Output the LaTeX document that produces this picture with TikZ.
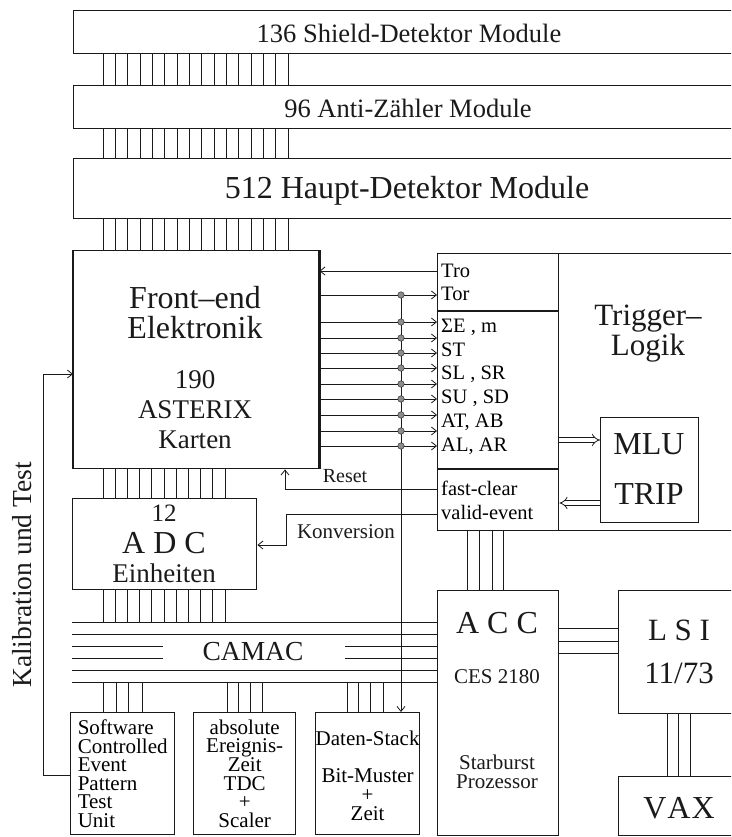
\documentclass[tikz,border=0pt]{standalone}
\usepackage{fontspec}
\setmainfont{Liberation Serif}
\usepackage{xcolor}
\definecolor{cInk}{HTML}{1A1A1A}
\definecolor{cDot}{HTML}{8C8C8C}
\usepackage{tikz}
\usetikzlibrary{arrows.meta}
\newcommand{\fsz}[2]{\fontsize{#1}{#2}\selectfont}
\tikzset{
  mod-box/.style={draw=cInk,line width=1.4pt,inner sep=0pt,anchor=north west},
  bus-line/.style={draw=cInk,line width=0.9pt},
  arrow/.style={draw=cInk,line width=0.8pt,-{Straight Barb[length=5pt,width=8pt]}},
  arrow-wide/.style={draw=cInk,line width=0.8pt,double,double distance=3.5pt,-{Implies}},
  sig-dot/.style={circle,draw=cInk,fill=cDot,inner sep=0pt,minimum size=6.5pt},
  sig-label/.style={anchor=west,inner sep=0pt,font=\fsz{20.5}{22}},
  box-text/.style={inner sep=0pt,text=cInk},
}

\begin{document}
\begin{tikzpicture}[x=1pt,y=-1pt]
  \clip (0,0) rectangle (731,837);
  % detector modules
  \node[mod-box,minimum width=680pt,minimum height=43pt] (shield) at (73,10) {};
  \node[mod-box,minimum width=680pt,minimum height=43pt] (anti) at (73,85) {};
  \node[mod-box,minimum width=680pt,minimum height=60pt] (haupt) at (73,158) {};
  \node[box-text,font=\fsz{26.5}{28}] (shield-t) at (409,33) {136 Shield-Detektor Module};
  \node[box-text,font=\fsz{26.5}{28}] (anti-t) at (408,108) {96 Anti-Zähler Module};
  \node[box-text,font=\fsz{32}{34}] (haupt-t) at (407,191) {512 Haupt-Detektor Module};

  % front-end and ADC
  \node[mod-box,minimum width=245pt,minimum height=218pt] (front) at (73,250) {};
  \draw[line width=2.4pt,cInk] (front.north west) -- (front.south west);
  \draw[line width=2.4pt,cInk] (front.north east) -- (front.south east);
  \node[box-text,font=\fsz{32}{30},align=center] (fe-title) at (195,313) {Front–end\\Elektronik};
  \node[box-text,font=\fsz{27}{30},align=center] (fe-count) at (195,410) {190\\ASTERIX\\Karten};
  \node[mod-box,minimum width=184pt,minimum height=91pt] (adc) at (72,498) {};
  \node[box-text,font=\fsz{25}{26}] (adc-n) at (164,513) {12};
  \node[box-text,font=\fsz{32}{34}] (adc-t) at (164,543) {A D C};
  \node[box-text,font=\fsz{27}{28}] (adc-e) at (164,573) {Einheiten};

  % trigger
  \node[mod-box,minimum width=320pt,minimum height=277pt] (trig) at (437,253) {};
  \node[mod-box,minimum width=121pt,minimum height=277pt] (sig) at (437,253) {};
  \draw[line width=1.4pt,cInk] (sig.west |- 0,311) -- (sig.east |- 0,311);
  \draw[line width=1.4pt,cInk] (sig.west |- 0,469) -- (sig.east |- 0,469);
  \node[box-text,font=\fsz{31}{30},align=center] (trig-t) at (648,334) {Trigger–\\Logik};
  \node[mod-box,minimum width=98pt,minimum height=105pt] (mlu) at (600,417) {};
  \node[box-text,font=\fsz{32}{34}] (mlu-t) at (649,444) {MLU};
  \node[box-text,font=\fsz{32}{34}] (trip-t) at (649,494) {TRIP};
  \foreach \txt/\y [count=\k] in {Tro/271,Tor/294,{ΣE , m}/327,ST/350,{SL , SR}/374,
      {SU , SD}/398,{AT, AB}/422,{AL, AR}/446,fast-clear/488,valid-event/512}
    \node[sig-label] (lab\k) at (441,\y) {\txt};

  % computers
  \node[mod-box,minimum width=121pt,minimum height=245pt] (acc) at (437,590) {};
  \node[box-text,font=\fsz{32}{34}] (acc-t) at (497,623) {A C C};
  \node[box-text,font=\fsz{21}{22}] (acc-c) at (497,677) {CES 2180};
  \node[box-text,font=\fsz{21}{19},align=center] (acc-p) at (497,772) {Starburst\\Prozessor};
  \node[mod-box,minimum width=140pt,minimum height=123pt] (lsi) at (618,590) {};
  \node[box-text,font=\fsz{31}{32}] (lsi-t) at (679,630) {L S I};
  \node[box-text,font=\fsz{31}{32}] (lsi-n) at (679,673) {11/73};
  \node[mod-box,minimum width=140pt,minimum height=59pt] (vax) at (618,776) {};
  \node[box-text,font=\fsz{32}{34}] (vax-t) at (679,808) {V\kern1pt A\kern1pt X};

  % CAMAC modules
  \node[mod-box,minimum width=104pt,minimum height=122pt,align=left,
    font=\fsz{21}{18.6}] (soft) at (70,712)
    {Software\\Controlled\\Event\\Pattern\\Test\\Unit};
  \node[mod-box,minimum width=102pt,minimum height=122pt,align=center,
    font=\fsz{21}{18.6}] (abs) at (193,712)
    {absolute\\Ereignis-\\Zeit\\TDC\\+\\Scaler};
  \node[mod-box,minimum width=101pt,minimum height=122pt,align=center,
    font=\fsz{21}{18.6}] (daten) at (315,712)
    {\mbox{}\\Daten-Stack\\\mbox{}\\Bit-Muster\\+\\Zeit};

  % CAMAC bus
  \coordinate (cam-top) at (72,622);
  \coordinate (cam-bot) at (72,682);
  \foreach \y in {622,634,670,682}
    \draw[bus-line] (72,\y) -- (0,\y -| acc.west);
  \foreach \y in {646,658} {
    \draw[bus-line] (72,\y) -- (163,\y);
    \draw[bus-line] (345,\y) -- (0,\y -| acc.west);
  }
  \node[box-text,font=\fsz{27.5}{28}] (camac) at (253,652) {CAMAC};

  % flat cables
  \foreach \i in {0,...,15} {
    \pgfmathsetmacro\cx{103+\i*12.33}
    \draw[bus-line] (\cx,0 |- shield.south) -- (\cx,0 |- anti.north);
    \draw[bus-line] (\cx,0 |- anti.south) -- (\cx,0 |- haupt.north);
    \draw[bus-line] (\cx,0 |- haupt.south) -- (\cx,0 |- front.north);
  }
  \foreach \i in {0,...,10} {
    \pgfmathsetmacro\cx{103+\i*12.2}
    \draw[bus-line] (\cx,0 |- front.south) -- (\cx,0 |- adc.north);
    \draw[bus-line] (\cx,0 |- adc.south) -- (\cx,0 |- cam-top);
  }
  \foreach \cx in {103,116,128,142}
    \draw[bus-line] (\cx,0 |- cam-bot) -- (\cx,0 |- soft.north);
  \foreach \cx in {227,238,250,262}
    \draw[bus-line] (\cx,0 |- cam-bot) -- (\cx,0 |- abs.north);
  \foreach \cx in {347,358,370,383}
    \draw[bus-line] (\cx,0 |- cam-bot) -- (\cx,0 |- daten.north);
  \foreach \cx in {467,479,492,503}
    \draw[bus-line] (\cx,0 |- trig.south) -- (\cx,0 |- acc.north);
  \foreach \y in {628,641,653}
    \draw[bus-line] (0,\y -| acc.east) -- (0,\y -| lsi.west);
  \foreach \cx in {667,678,690}
    \draw[bus-line] (\cx,0 |- lsi.south) -- (\cx,0 |- vax.north);

  % trigger signals
  \draw[arrow] (0,271 -| sig.west) -- (0,271 -| front.east);
  \coordinate (bus-top) at (401,295);
  \draw[arrow] (bus-top) -- (bus-top |- daten.north);
  \foreach \y [count=\k] in {295,322,338,353,368,384,399,415,431,446} {
    \draw[arrow] (0,\y -| front.east) -- (0,\y -| sig.west);
    \node[sig-dot] (dot\k) at (401,\y) {};
  }
  \draw[arrow-wide] (0,440 -| sig.east) -- (0,440 -| mlu.west);
  \draw[arrow-wide] (0,503 -| mlu.west) -- (0,503 -| sig.east);
  \draw[arrow] (0,489 -| sig.west) -| (285,0 |- front.south);
  \draw[arrow] (0,514 -| sig.west) -- (286,514) |- (0,545 -| adc.east);
  \node[box-text,font=\fsz{20}{22}] (reset) at (345,476) {Reset};
  \node[box-text,font=\fsz{21}{22}] (konv) at (346,532) {Konversion};

  % calibration loop
  \draw[arrow] (0,775 -| soft.west) -- (43,775) |- (0,374 -| front.west);
  \node[box-text,font=\fsz{27.5}{28},rotate=90] (kal) at (22,575) {Kalibration und Test};
\end{tikzpicture}
\end{document}
